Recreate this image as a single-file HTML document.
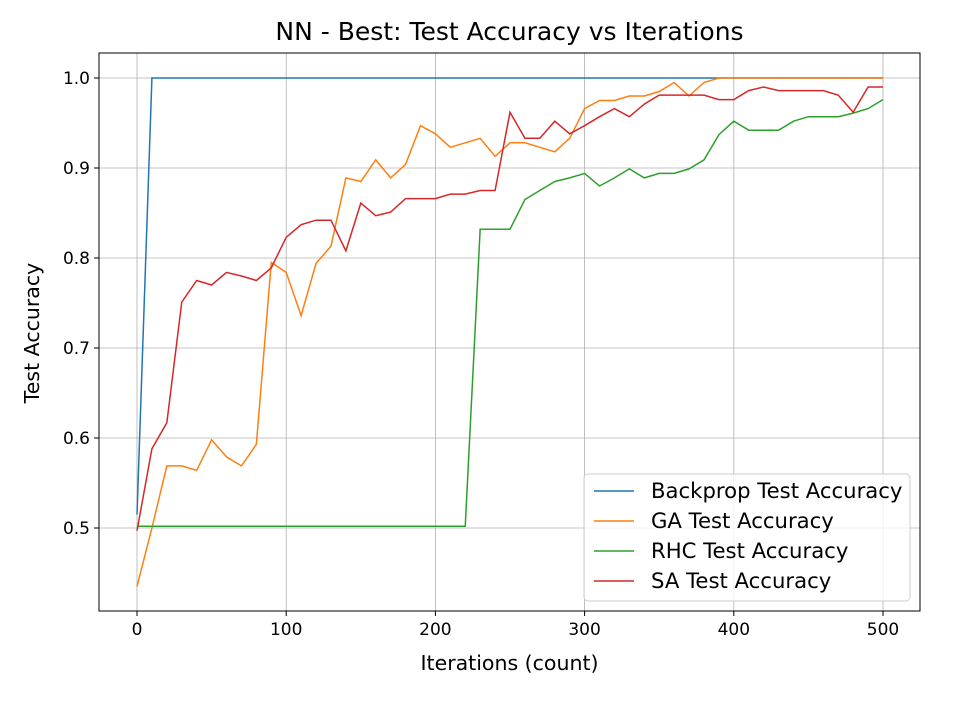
<!DOCTYPE html>
<html><head><meta charset="utf-8"><style>
body{margin:0;background:#fff;}
svg{display:block;font-family:"DejaVu Sans","Liberation Sans",sans-serif;}
</style></head><body>
<svg id="chart" width="960" height="720" viewBox="0 0 960 720"></svg>
<script>
const iterations=[0,10,20,30,40,50,60,70,80,90,100,110,120,130,140,150,160,170,180,190,200,210,220,230,240,250,260,270,280,290,300,310,320,330,340,350,360,370,380,390,400,410,420,430,440,450,460,470,480,490,500];
const backprop=[0.515,1,1,1,1,1,1,1,1,1,1,1,1,1,1,1,1,1,1,1,1,1,1,1,1,1,1,1,1,1,1,1,1,1,1,1,1,1,1,1,1,1,1,1,1,1,1,1,1,1,1];
const ga=[0.435,0.50,0.569,0.569,0.564,0.598,0.579,0.569,0.593,0.795,0.784,0.736,0.794,0.813,0.889,0.885,0.909,0.889,0.904,0.947,0.938,0.923,0.928,0.933,0.913,0.928,0.928,0.923,0.918,0.933,0.966,0.975,0.975,0.980,0.980,0.985,0.995,0.980,0.995,1,1,1,1,1,1,1,1,1,1,1,1];
const rhc=[0.502,0.502,0.502,0.502,0.502,0.502,0.502,0.502,0.502,0.502,0.502,0.502,0.502,0.502,0.502,0.502,0.502,0.502,0.502,0.502,0.502,0.502,0.502,0.832,0.832,0.832,0.865,0.875,0.885,0.889,0.894,0.880,0.889,0.899,0.889,0.894,0.894,0.899,0.909,0.937,0.952,0.942,0.942,0.942,0.952,0.957,0.957,0.957,0.961,0.966,0.976];
const sa=[0.497,0.588,0.617,0.751,0.775,0.770,0.784,0.780,0.775,0.789,0.823,0.837,0.842,0.842,0.808,0.861,0.847,0.851,0.866,0.866,0.866,0.871,0.871,0.875,0.875,0.962,0.933,0.933,0.952,0.938,0.947,0.957,0.966,0.957,0.971,0.981,0.981,0.981,0.981,0.976,0.976,0.986,0.990,0.986,0.986,0.986,0.986,0.981,0.962,0.990,0.990];
const xTicks=[0,100,200,300,400,500];
const yTicks=[0.5,0.6,0.7,0.8,0.9,1.0];
const seriesNames=["Backprop Test Accuracy","GA Test Accuracy","RHC Test Accuracy","SA Test Accuracy"];
const colors=["#1f77b4","#ff7f0e","#2ca02c","#d62728"];

const L=99,R=920,T=53,B=611;
const xs=v=>137+(v-0)*(883-137)/500;
const ys=v=>528-(v-0.5)*(528-78)/0.5;
const svg=document.getElementById('chart');
const NS='http://www.w3.org/2000/svg';
function mk(tag,attrs,parent){const e=document.createElementNS(NS,tag);for(const k in attrs)e.setAttribute(k,attrs[k]);(parent||svg).appendChild(e);return e;}

const grid=mk('g',{});


xTicks.forEach(t=>{
  const l=mk('line',{x1:xs(t),x2:xs(t),y1:T,y2:B,stroke:'#b0b0b0','stroke-width':0.8},grid);
  
  
  const tk=mk('line',{x1:xs(t),x2:xs(t),y1:B,y2:B+5,stroke:'#000'});
  
  
  const tx=mk('text',{x:xs(t),y:B+24,'text-anchor':'middle','font-size':17});
  tx.textContent=t;
  
  
});
yTicks.forEach(t=>{
  const l=mk('line',{x1:L,x2:R,y1:ys(t),y2:ys(t),stroke:'#b0b0b0','stroke-width':0.8},grid);
  
  
  const tk=mk('line',{x1:L-5,x2:L,y1:ys(t),y2:ys(t),stroke:'#000'});
  
  
  const tx=mk('text',{x:L-9,y:ys(t)+6,'text-anchor':'end','font-size':17});
  tx.textContent=t.toFixed(1);
  
  
});

[backprop,ga,rhc,sa].forEach((arr,i)=>{
  const d=arr.map((v,j)=>(j?'L':'M')+xs(iterations[j]).toFixed(2)+','+ys(v).toFixed(2)).join(' ');
  const p=mk('path',{d:d,fill:'none',stroke:colors[i],'stroke-width':1.5});
  
  
});

const frame=mk('rect',{x:L,y:T,width:R-L,height:B-T,fill:'none',stroke:'#000','stroke-width':1});



const title=mk('text',{x:(L+R)/2,y:40,'text-anchor':'middle','font-size':25});
title.textContent='NN - Best: Test Accuracy vs Iterations';


const xl=mk('text',{x:(L+R)/2,y:670,'text-anchor':'middle','font-size':20.5});
xl.textContent='Iterations (count)';


const yl=mk('text',{x:0,y:0,'text-anchor':'middle','font-size':20.5,transform:'translate(39,333) rotate(-90)'});
yl.textContent='Test Accuracy';



const leg=mk('g',{});


mk('rect',{x:584,y:474,width:326,height:127,rx:4,fill:'#fff','fill-opacity':0.8,stroke:'#ccc'},leg);
seriesNames.forEach((n,i)=>{
  const y=491+i*30;
  const ln=mk('line',{x1:594,x2:634,y1:y,y2:y,stroke:colors[i],'stroke-width':1.5},leg);
  
  
  const t=mk('text',{x:651,y:y+7,'font-size':21.2},leg);
  t.textContent=n;
  
  
});
</script>
</body></html>
